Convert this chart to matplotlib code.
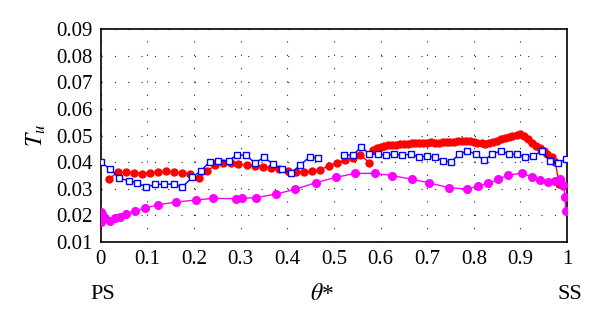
import numpy as np
import matplotlib
matplotlib.use("Agg")
import matplotlib.pyplot as plt

# Blue open squares (gap between 0.47 and 0.52)
blue_x1 = [0.0, 0.02, 0.04, 0.06, 0.078, 0.098, 0.117, 0.136, 0.157, 0.175, 0.196,
           0.215, 0.234, 0.252, 0.274, 0.292, 0.312, 0.33, 0.35, 0.37, 0.389, 0.408,
           0.428, 0.448, 0.466]
blue_y1 = [0.0400, 0.0374, 0.0340, 0.0330, 0.0323, 0.0306, 0.0317, 0.0317, 0.0318, 0.0307,
           0.0343, 0.0368, 0.0402, 0.0406, 0.0406, 0.0427, 0.0427, 0.0397, 0.0418, 0.0393,
           0.0374, 0.0358, 0.0390, 0.0420, 0.0416]
blue_x2 = [0.522, 0.541, 0.559, 0.576, 0.594, 0.612, 0.629, 0.647, 0.665, 0.682, 0.70,
           0.717, 0.735, 0.751, 0.769, 0.786, 0.804, 0.822, 0.84, 0.858, 0.875, 0.893,
           0.91, 0.928, 0.946, 0.963, 0.98, 0.997]
blue_y2 = [0.0427, 0.0427, 0.0458, 0.0430, 0.0430, 0.0427, 0.0430, 0.0427, 0.0430, 0.0420,
           0.0423, 0.0418, 0.0404, 0.0402, 0.0430, 0.0443, 0.0430, 0.0408, 0.0430, 0.0443,
           0.0430, 0.0429, 0.0420, 0.0423, 0.0443, 0.0406, 0.0396, 0.0411]

# Red filled circles, two runs
red_x1 = [0.018, 0.036, 0.054, 0.071, 0.088, 0.105, 0.122, 0.139, 0.157, 0.175, 0.192,
          0.21, 0.228, 0.246, 0.262, 0.279, 0.295, 0.313, 0.33, 0.348, 0.366, 0.383,
          0.402, 0.419, 0.436, 0.453, 0.471, 0.489, 0.506, 0.524, 0.54, 0.557, 0.576]
red_y1 = [0.0336, 0.0363, 0.0362, 0.0360, 0.0357, 0.0360, 0.0362, 0.0367, 0.0363, 0.0358,
          0.0356, 0.0340, 0.0366, 0.0390, 0.0397, 0.0397, 0.0393, 0.0390, 0.0387, 0.0383,
          0.0380, 0.0374, 0.0368, 0.0362, 0.0364, 0.0366, 0.0372, 0.0386, 0.0398, 0.0408,
          0.0415, 0.0427, 0.0398]
red_x2 = [0.584, 0.592, 0.60, 0.608, 0.617, 0.625, 0.633, 0.642, 0.65, 0.658, 0.667,
          0.675, 0.683, 0.692, 0.70, 0.708, 0.717, 0.725, 0.733, 0.742, 0.75, 0.758,
          0.767, 0.775, 0.783, 0.792, 0.80, 0.808, 0.817, 0.825, 0.833, 0.842, 0.85,
          0.858, 0.867, 0.875, 0.883, 0.892, 0.90, 0.908, 0.917, 0.925, 0.933, 0.942,
          0.95, 0.958, 0.967, 0.975, 0.983, 0.992]
red_y2 = [0.0446, 0.0452, 0.0456, 0.0460, 0.0463, 0.0465, 0.0466, 0.0468, 0.0469, 0.0470,
          0.0471, 0.0472, 0.0472, 0.0473, 0.0474, 0.0475, 0.0474, 0.0474, 0.0475, 0.0476,
          0.0476, 0.0477, 0.0478, 0.0478, 0.0479, 0.0478, 0.0476, 0.0473, 0.0471, 0.0470,
          0.0472, 0.0476, 0.0481, 0.0486, 0.0491, 0.0495, 0.0499, 0.0503, 0.0506, 0.0500,
          0.0488, 0.0474, 0.0462, 0.0452, 0.0442, 0.0430, 0.0418, 0.0400, 0.0318, 0.0310]

# Magenta filled circles
mag_x = [0.0, 0.001, 0.003, 0.005, 0.009, 0.019, 0.03, 0.041, 0.055, 0.073, 0.094,
         0.123, 0.161, 0.204, 0.24, 0.29, 0.302, 0.333, 0.375, 0.417, 0.461, 0.504,
         0.546, 0.588, 0.624, 0.667, 0.703, 0.747, 0.786, 0.81, 0.831, 0.853, 0.874,
         0.903, 0.924, 0.942, 0.96, 0.974, 0.985, 0.992, 0.996, 0.997]
mag_y = [0.0176, 0.0214, 0.0205, 0.0185, 0.0189, 0.0180, 0.0189, 0.0195, 0.0207, 0.0217,
         0.0227, 0.0240, 0.0250, 0.0258, 0.0264, 0.0263, 0.0264, 0.0267, 0.0280, 0.0298,
         0.0323, 0.0343, 0.0358, 0.0358, 0.0350, 0.0336, 0.0323, 0.0304, 0.0299, 0.0311,
         0.0320, 0.0336, 0.0352, 0.0358, 0.0346, 0.0333, 0.0327, 0.0330, 0.0336, 0.0314,
         0.0270, 0.0218]

xticks = np.round(np.arange(0, 1.01, 0.1), 1)
xticklabels = ["0", "0.1", "0.2", "0.3", "0.4", "0.5", "0.6", "0.7", "0.8", "0.9", "1"]
yticks = np.round(np.arange(0.01, 0.0901, 0.01), 2)

plt.rcParams["font.family"] = ["Liberation Serif", "DejaVu Serif"]
plt.rcParams["mathtext.fontset"] = "stix"

fig = plt.figure(figsize=(6.0, 3.24), dpi=100)
ax = fig.add_axes([0.168, 0.253, 0.777, 0.657])

ax.plot(red_x1, red_y1, "-o", color="#ff0000", lw=1.0, ms=5, zorder=3)
ax.plot(red_x2, red_y2, "-o", color="#ff0000", lw=1.0, ms=5, zorder=3)
ax.plot(blue_x1, blue_y1, "-s", color="#0000ff", mfc="white", lw=1.0, ms=4.5, mew=1.0, zorder=4)
ax.plot(blue_x2, blue_y2, "-s", color="#0000ff", mfc="white", lw=1.0, ms=4.5, mew=1.0, zorder=4)
ax.plot(mag_x, mag_y, "-o", color="#ff00ff", lw=1.0, ms=5.5, zorder=3)

ax.set_xlim(0, 1)
ax.set_ylim(0.01, 0.09)
ax.set_xticks(xticks)
ax.set_xticklabels(xticklabels)
ax.set_yticks(yticks)
ax.set_yticklabels([f"{v:.2f}" for v in yticks])
ax.tick_params(direction="in", length=0, labelsize=15, pad=6)
ax.grid(True, color="#222222", lw=0.8, linestyle=(0, (1, 11)))
for s in ax.spines.values():
    s.set_linewidth(1.2)

ax.set_ylabel(r"$T_u$", fontsize=17, labelpad=6)
fig.text(0.537, 0.09, r"$\theta$*", fontsize=17, ha="center", va="center")
fig.text(0.172, 0.09, "PS", fontsize=16, ha="center", va="center")
fig.text(0.95, 0.09, "SS", fontsize=16, ha="center", va="center")

fig.savefig("out.png", dpi=100)
